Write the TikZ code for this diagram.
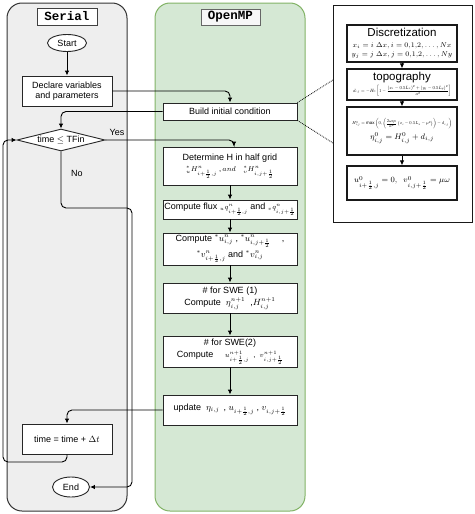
\documentclass[tikz,border=0pt]{standalone}
\usepackage{amsmath}
\usepackage{graphicx}
\usepackage{fontspec}
\setmainfont{Liberation Sans}
\setmonofont{Liberation Mono}
\usetikzlibrary{arrows.meta,shapes.geometric}
\definecolor{serialfill}{HTML}{EEEEEE}
\definecolor{serialline}{HTML}{333333}
\definecolor{ompfill}{HTML}{D5E8D4}
\definecolor{ompline}{HTML}{82B366}
\tikzset{
  lane/.style={rounded corners=15pt, line width=1pt},
  titlebox/.style={draw=black!75, line width=0.9pt, inner sep=1pt, font=\ttfamily\bfseries\fontsize{12.5}{14}\selectfont},
  box/.style={draw=black!85, fill=white, line width=0.9pt, inner sep=1pt, align=center},
  rbox/.style={draw=black!90, fill=white, line width=1.2pt, inner sep=1pt, align=center},
  arr/.style={-{Latex[length=5pt,width=4.5pt]}, line width=0.9pt, rounded corners=5pt},
  lbl/.style={inner sep=0pt},
  dots/.style={densely dotted, line width=0.8pt}
}
\newcommand{\smallmath}{\fontsize{7.5}{8}\selectfont}
\begin{document}
\begin{tikzpicture}[x=1pt,y=-1pt,font=\fontsize{9}{10.5}\selectfont]
\useasboundingbox (0,0) rectangle (474,514);
% lanes
\draw[lane, fill=serialfill, draw=serialline] (7,3) rectangle (127,511);
\draw[lane, fill=ompfill, draw=ompline] (155,3) rectangle (305,511);
\node[titlebox, fill=white, minimum width=60pt, minimum height=17pt] (tser) at (67,16.5) {Serial};
\node[titlebox, fill=black!3, draw=black!60, minimum width=59pt, minimum height=16pt] (tomp) at (230.5,17) {OpenMP};
% right detail frame
\node[draw=black!90, line width=1pt, minimum width=139pt, minimum height=217pt, inner sep=0pt] (frame) at (402.5,113.5) {};
\coordinate (fa) at (333,80);
\coordinate (fb) at (333,143);
% serial nodes
\node[ellipse, draw=black!85, fill=white, line width=0.9pt, minimum width=39pt, minimum height=17pt, inner sep=0pt] (start) at (67,43) {Start};
\node[box, minimum width=90pt, minimum height=30pt] (declare) at (67,91) {Declare variables\\and parameters};
\node[diamond, draw=black!85, fill=white, line width=0.9pt, aspect=4, inner sep=0.5pt, minimum width=88pt, minimum height=22pt] (dia) at (61,140) {time $\leq$ TFin};
\node[box, minimum width=90pt, minimum height=30pt] (timeb) at (67,439) {time = time + $\Delta t$};
\node[ellipse, draw=black!85, fill=white, line width=0.9pt, minimum width=37pt, minimum height=20pt, inner sep=0pt] (endn) at (71,487) {End};
% openmp nodes
\node[box, minimum width=134pt, minimum height=17pt] (build) at (230,111.5) {Build initial condition};
\node[box, minimum width=134pt, minimum height=38pt] (det) at (230,166) {Determine H in half grid\\[1pt]
  {\smallmath ${}^{*}_{u}H^{n}_{i+\frac{1}{2},j}$ ,\,$and$\quad ${}^{*}_{v}H^{n}_{i,j+\frac{1}{2}}$}};
\node[box, minimum width=134pt, minimum height=19pt] (flux) at (230,209.5) {Compute flux {\smallmath ${}_{u}q^{n}_{i+\frac{1}{2},j}$} and {\smallmath ${}_{v}q^{n}_{i,j+\frac{1}{2}}$}};
\node[box, minimum width=134pt, minimum height=32pt] (comp) at (230,249) {Compute ${}^{*}u^{n}_{i,j}$ , ${}^{*}u^{n}_{i,j+\frac{1}{2}}$ \quad ,\\[2pt]
  ${}^{*}v^{n}_{i+\frac{1}{2},j}$ and ${}^{*}v^{n}_{i,j}$};
\node[box, minimum width=134pt, minimum height=30pt] (swea) at (230,298) {\# for SWE (1)\\[2pt]Compute \ $\eta^{n+1}_{i,j}$ \ ,$H^{n+1}_{i,j}$};
\node[box, minimum width=134pt, minimum height=31pt] (sweb) at (230,351.5) {\# for SWE(2)\\[2pt]Compute \quad {\smallmath $u^{n+1}_{i+\frac{1}{2},j}$ \ , \ $v^{n+1}_{i,j+\frac{1}{2}}$}};
\node[box, minimum width=134pt, minimum height=30pt] (upd) at (230,410) {update \ $\eta_{i,j}$ \,, $u_{i+\frac{1}{2},j}$ , $v_{i,j+\frac{1}{2}}$};
% right detail boxes
\node[rbox, minimum width=110pt, minimum height=37pt] (d1) at (402,43.5) {{\fontsize{11.5}{12}\selectfont Discretization}\\[0pt]
  {\fontsize{7.5}{8.5}\selectfont $x_i = i\;\Delta x, i = 0{,}1{,}2, \ldots, Nx$}\\[-1pt]
  {\fontsize{7.5}{8.5}\selectfont $y_j = j\;\Delta x, j = 0{,}1{,}2, \ldots, Ny$}};
\node[rbox, minimum width=110pt, minimum height=31pt] (d2) at (402,84.5) {{\fontsize{11.5}{12}\selectfont topography}\\[1pt]
  \resizebox{98pt}{!}{$d_{i,j} = -H_0\left[1-\dfrac{(x_i-0.5L_x)^2+(y_j-0.5L_y)^2}{a^2}\right]$}};
\node[rbox, minimum width=110pt, minimum height=48pt] (d3) at (402,131) {\resizebox{100pt}{!}{$H^{0}_{i,j} = \max\left(0,\left(\dfrac{2\omega\eta_0}{a^2}\left(x_i-0.5L_x-\mu^{2}\right)\right)-d_{i,j}\right)$}\\[3pt]
  {\fontsize{8}{9}\selectfont $\eta^{0}_{i,j} = H^{0}_{i,j} + d_{i,j}$}};
\node[rbox, minimum width=110pt, minimum height=34pt] (d4) at (402,183) {\fontsize{8}{10}\selectfont $u^{0}_{i+\frac{1}{2},j} = 0,\;\; v^{0}_{i,j+\frac{1}{2}} = \mu\omega$};
% serial connectors
\draw[arr] (start) -- (declare);
\draw[arr] (declare.east) -| (build.north);
\draw[arr] (build.west) -| (dia.north);
\draw[arr] (dia.east) -| ([xshift=4pt]det.north);
\node[lbl] (yes) at (117,132) {Yes};
\coordinate (nocorner) at (132,208);
\draw[arr] (dia.south) |- (nocorner) |- (endn.east);
\node[lbl] (no) at (77,173) {No};
% openmp chain
\draw[arr] (det) -- (flux);
\draw[arr] (flux) -- (comp);
\draw[arr] (comp) -- (swea);
\draw[arr] (swea) -- (sweb);
\draw[arr] (sweb) -- (upd);
\draw[arr] (upd.west) -| (timeb.north);
\coordinate (loopc) at (3,462);
\draw[arr] (timeb.south) |- (loopc) |- (dia.west);
% detail
\draw[dots] (build.north east) -- (fa);
\draw[dots] (build.south east) -- (fb);
\draw[arr] (d1) -- (d2);
\draw[arr] (d2) -- (d3);
\draw[arr] (d3) -- (d4);
\end{tikzpicture}
\end{document}
